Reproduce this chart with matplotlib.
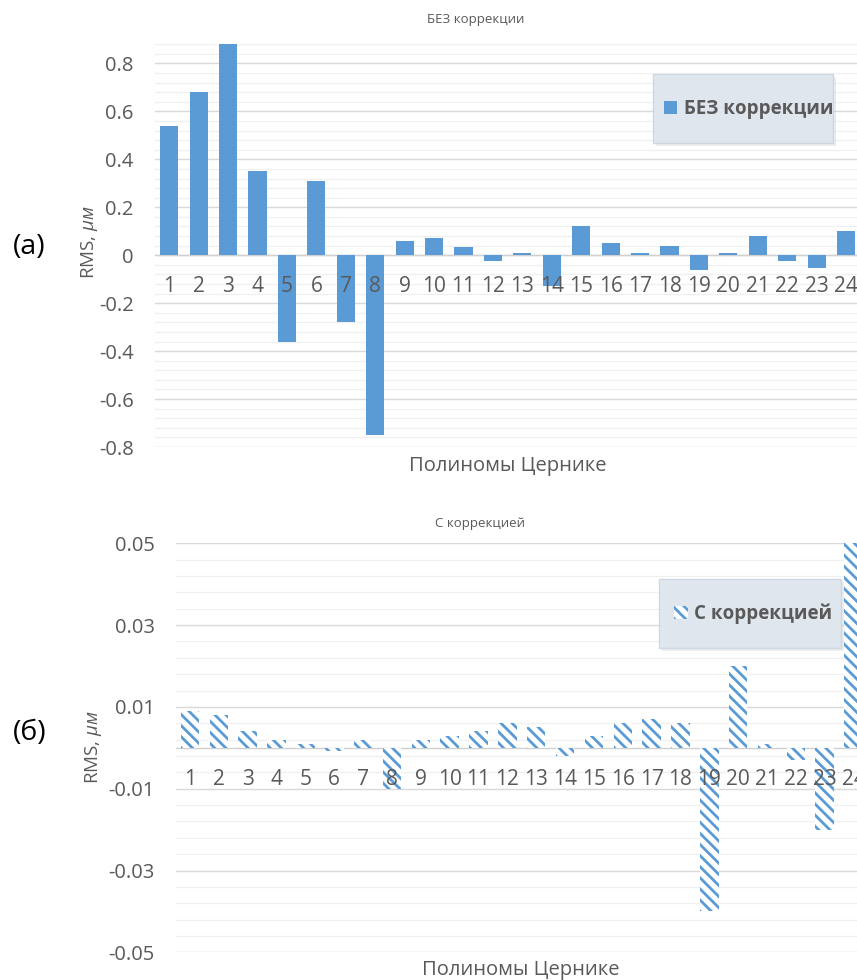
import numpy as np
import matplotlib
matplotlib.use("Agg")
import matplotlib.pyplot as plt
from matplotlib.patches import Rectangle
from matplotlib.ticker import MultipleLocator, FuncFormatter

plt.rcParams['font.family'] = ['Open Sans', 'DejaVu Sans']
plt.rcParams['mathtext.fontset'] = 'custom'
plt.rcParams['mathtext.it'] = 'Open Sans:italic'
plt.rcParams['hatch.linewidth'] = 2.0

# данные
polynomials = list(range(1, 25))
rms_before = [0.54, 0.68, 0.88, 0.35, -0.36, 0.31, -0.28, -0.75, 0.06, 0.07, 0.033, -0.025,
              0.011, -0.13, 0.12, 0.05, 0.008, 0.038, -0.06, 0.011, 0.08, -0.025, -0.055, 0.10]
rms_after = [0.009, 0.008, 0.004, 0.002, 0.001, -0.0008, 0.002, -0.01, 0.002, 0.003, 0.004, 0.006,
             0.005, -0.002, 0.003, 0.006, 0.007, 0.006, -0.04, 0.02, 0.001, -0.003, -0.02, 0.05]
title_before = "БЕЗ коррекции"
title_after = "С коррекцией"
xlabel = "Полиномы Цернике"

W, H = 857, 980
blue = '#5B9BD5'
grey = '#595959'

fig = plt.figure(figsize=(W / 100, H / 100), dpi=100)


def px(x, y):
    # пиксели картинки -> доли фигуры
    return x / W, 1 - y / H


def setup(ax, ymin, ymax, major, minor, fmt, ypad):
    ax.set_ylim(ymin, ymax)
    ax.set_xlim(0.5, 24.5)
    for s in ax.spines.values():
        s.set_visible(False)
    ax.spines['bottom'].set_position(('data', 0))
    ax.yaxis.set_major_locator(major)
    ax.yaxis.set_minor_locator(minor)
    ax.yaxis.set_major_formatter(FuncFormatter(fmt))
    ax.grid(axis='y', which='major', color='#d9d9d9', lw=1)
    ax.grid(axis='y', which='minor', color='#f0f0f0', lw=1)
    ax.set_xticks(polynomials)
    ax.set_xticklabels([str(p) for p in polynomials])
    ax.tick_params(axis='x', length=0, pad=15, labelsize=15, colors=grey)
    ax.tick_params(axis='y', which='both', length=0, pad=ypad, labelsize=14.5, colors=grey)
    ax.axhline(0, color='#d0d0d0', lw=1, zorder=0.6)
    ax.yaxis.set_zorder(0.5)
    ax.xaxis.set_zorder(3)


def legend_box(ax, x0, y0, x1, y1):
    (fx0, fy1), (fx1, fy0) = px(x0, y0), px(x1, y1)
    shadow = Rectangle((fx0 + 3 / W, fy0 - 3 / H), fx1 - fx0, fy1 - fy0, transform=fig.transFigure,
                       facecolor='#b0b8c0', edgecolor='none', alpha=0.25, clip_on=False, zorder=4)
    box = Rectangle((fx0, fy0), fx1 - fx0, fy1 - fy0, transform=fig.transFigure,
                    facecolor='#dfe6ee', edgecolor='#cdd5de', lw=1, alpha=0.92, clip_on=False, zorder=4.1)
    ax.add_patch(shadow)
    ax.add_patch(box)


# (а) без коррекции
l, b = px(154.5, 447)
ax1 = fig.add_axes([l, b, (860.8 - 154.5) / W, (447 - 44.3) / H])
setup(ax1, -0.8, 0.88, MultipleLocator(0.2), MultipleLocator(0.04),
      lambda v, p: '0' if abs(v) < 1e-9 else f'{v:g}', 15)
ax1.bar(polynomials, rms_before, width=0.62, color=blue, zorder=2, label=title_before)
legend_box(ax1, 653, 74, 833, 143)
ax1.legend(loc='center left', bbox_to_anchor=px(655, 109), bbox_transform=fig.transFigure,
           frameon=False, borderpad=0, handlelength=0.65, handleheight=0.65, handletextpad=0.4,
           prop={'weight': 'bold', 'size': 13.5}, labelcolor=grey)

# (б) с коррекцией
l, b = px(175.6, 952.3)
ax2 = fig.add_axes([l, b, (868.0 - 175.6) / W, (952.3 - 543.3) / H])
setup(ax2, -0.05, 0.05, MultipleLocator(0.02, offset=0.01), MultipleLocator(0.004, offset=0.002),
      lambda v, p: f'{v:.2f}', 15)
ax2.bar(polynomials, rms_after, width=0.64, color='white', edgecolor=blue, lw=0,
        hatch='\\\\\\', zorder=2, label=title_after)
legend_box(ax2, 659, 579, 841, 648)
ax2.legend(loc='center left', bbox_to_anchor=px(665, 614), bbox_transform=fig.transFigure,
           frameon=False, borderpad=0, handlelength=0.7, handleheight=0.7, handletextpad=0.35,
           prop={'weight': 'bold', 'size': 13.5}, labelcolor=grey)

# подписи
fig.text(*px(476, 19), title_before, ha='center', va='center', fontsize=9.5, color=grey)
fig.text(*px(480, 524), title_after, ha='center', va='center', fontsize=9.5, color=grey)
fig.text(*px(508, 466), xlabel, ha='center', va='center', fontsize=14.5, color=grey)
fig.text(*px(521, 970), xlabel, ha='center', va='center', fontsize=14.5, color=grey)
fig.text(*px(89, 242), r'RMS, $\mu м$', rotation=90, ha='center', va='center', fontsize=13.5, color=grey)
fig.text(*px(93, 747), r'RMS, $\mu м$', rotation=90, ha='center', va='center', fontsize=13.5, color=grey)
fig.text(*px(29, 247), '(а)', ha='center', va='center', fontsize=20.5, color='black')
fig.text(*px(30, 733), '(б)', ha='center', va='center', fontsize=20.5, color='black')

fig.savefig('out.png', dpi=100)
